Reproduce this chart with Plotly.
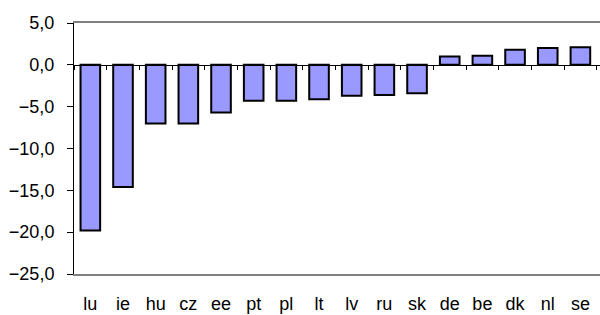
import plotly.graph_objects as go

categories = ["lu", "ie", "hu", "cz", "ee", "pt", "pl", "lt", "lv", "ru", "sk", "de", "be", "dk", "nl", "se"]
values = [-19.8, -14.6, -7.0, -7.0, -5.7, -4.3, -4.3, -4.1, -3.7, -3.6, -3.4, 1.0, 1.1, 1.8, 2.0, 2.1]
y_ticks = [5, 0, -5, -10, -15, -20, -25]

font = dict(family="Liberation Sans, Arial, sans-serif", size=18, color="black")

fig = go.Figure()
fig.add_trace(go.Bar(
    x=categories, y=values, width=0.6,
    marker=dict(color="#9999FF", line=dict(color="black", width=2)),
    xaxis="x", yaxis="y",
))
# invisible trace to carry the zero-line axis with boundary ticks
fig.add_trace(go.Scatter(x=categories, y=[0]*len(categories), mode="none",
                         xaxis="x2", yaxis="y", showlegend=False, hoverinfo="skip"))

fig.update_layout(
    width=600, height=315,
    margin=dict(l=74, r=0, t=23, b=41, autoexpand=False),
    paper_bgcolor="white", plot_bgcolor="white",
    showlegend=False,
    separators=", ",
    font=font,
    xaxis=dict(
        type="category", range=[-0.5, 15.6], automargin=False,
        showline=True, linecolor="#808080", linewidth=2, mirror=True,
        ticks="", showgrid=False, zeroline=False,
        ticklabelstandoff=12, tickfont=font,
    ),
    xaxis2=dict(
        type="category", range=[-0.5, 15.6], overlaying="x", automargin=False,
        anchor="free", position=25/30, side="bottom",
        showline=True, linecolor="black", linewidth=1,
        ticks="outside", tickson="boundaries", ticklen=4, tickcolor="black", tickwidth=1,
        showticklabels=False, showgrid=False, zeroline=False,
    ),
    yaxis=dict(
        range=[-25, 5], tickvals=y_ticks, tickformat=".1f", automargin=False,
        showline=True, linecolor="black", linewidth=1,
        ticks="outside", ticklen=6, tickcolor="black",
        showgrid=False, zeroline=False, tickfont=font,
        ticklabelstandoff=9,
    ),
)

fig.write_html("out.html", config={"displayModeBar": False},
               post_script="document.body.style.margin='0';document.body.style.overflow='hidden';")
